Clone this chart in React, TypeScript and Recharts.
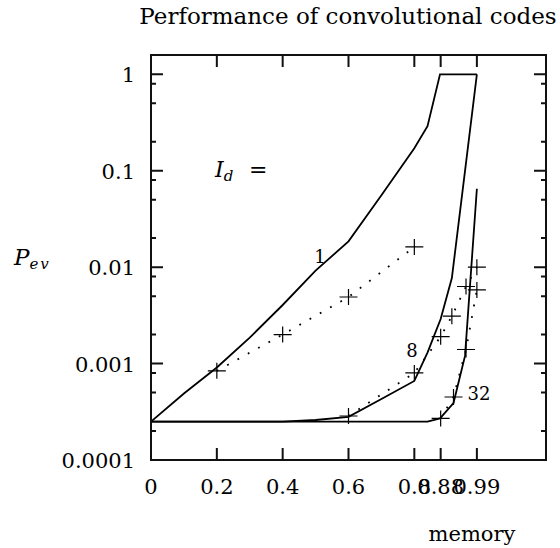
import { Line, LineChart, XAxis, YAxis } from 'recharts';

// axis ticks
const xTicks = [0, 0.2, 0.4, 0.6, 0.8, 0.88, 0.99];
const yMajorTicks = [0.0001, 0.001, 0.01, 0.1, 1];
const yMinorTicks = [0.0002, 0.0005, 0.0008, 0.002, 0.005, 0.008, 0.02, 0.05, 0.08, 0.2, 0.5, 0.8];

// bounds for I_d = 1, 8, 32 (solid)
const id1X = [0, 0.1, 0.2, 0.3, 0.4, 0.5, 0.6, 0.7, 0.8, 0.84, 0.878, 0.99];
const id1Y = [0.00025, 0.00049, 0.00091, 0.00186, 0.00405, 0.0092, 0.0185, 0.0557, 0.171, 0.29, 1, 1];
const id8X = [0, 0.4, 0.5, 0.6, 0.7, 0.8, 0.84, 0.88, 0.914, 0.99];
const id8Y = [0.00025, 0.00025, 0.00026, 0.00028, 0.00043, 0.00066, 0.0013, 0.0029, 0.0077, 1];
const id32X = [0, 0.8, 0.84, 0.878, 0.919, 0.954, 0.99];
const id32Y = [0.00025, 0.00025, 0.00025, 0.00027, 0.00039, 0.0012, 0.065];

// simulated codes (crosses, dotted)
const sim1X = [0.2, 0.4, 0.6, 0.8];
const sim1Y = [0.00084, 0.002, 0.0049, 0.0162];
const sim8X = [0.6, 0.8, 0.88, 0.914, 0.957, 0.99];
const sim8Y = [0.000286, 0.0008, 0.0019, 0.0031, 0.0063, 0.01];
const sim32X = [0.88, 0.919, 0.957, 0.99];
const sim32Y = [0.00027, 0.00045, 0.0014, 0.0058];

const zip = (xs: number[], ys: number[]) => xs.map((x, i) => ({ x, y: ys[i] }));

const W = 560;
const H = 548;
const font = '"DejaVu Serif", serif';
const axisStyle = { stroke: '#000', strokeWidth: 2 };
const yTicks = [...yMajorTicks, ...yMinorTicks].sort((a, b) => a - b);

const xMax = 1.2;
const yMin = 0.0001;
const yMax = 1.585;

// plot box (follows the chart margins and axis sizes below)
const L = 151;
const T = 55;
const PW = 395;
const PH = 405;
const R = L + PW;
const B = T + PH;
const frameX = (v: number) => L + (v / xMax) * PW;
const frameY = (v: number) => T + (Math.log10(yMax / v) / Math.log10(yMax / yMin)) * PH;
const isMajor = (v: number) => yMajorTicks.includes(v);

// frame outline and inward ticks on all four sides as one path
const framePath = [
  `M${L},${T}H${R}V${B}H${L}Z`,
  ...xTicks.map((t) => `M${frameX(t)},${B}v-12M${frameX(t)},${T}v12`),
  ...yTicks.map((t) => {
    const len = isMajor(t) ? 12 : 5;
    return `M${L},${frameY(t)}h${len}M${R},${frameY(t)}h${-len}`;
  }),
].join('');

function Cross(props: any) {
  const { cx, cy, index } = props;
  if (cx == null || cy == null) return null;
  return (
    <path
      key={index}
      d={`M${cx - 9},${cy}H${cx + 9}M${cx},${cy - 8}V${cy + 8}`}
      stroke="#000"
      strokeWidth={1.2}
      fill="none"
    />
  );
}

function BottomTick({ x, y, payload }: any) {
  return (
    <text x={x} y={y + 34} textAnchor="middle" fontFamily={font} fontSize={21} fill="#000">
      {payload.value}
    </text>
  );
}

function LeftTick({ x, y, payload }: any) {
  if (!isMajor(payload.value)) return <g />;
  return (
    <text x={x - 16} y={y + 8} textAnchor="end" fontFamily={font} fontSize={21} fill="#000">
      {String(payload.value)}
    </text>
  );
}

export default function App() {
  return (
    <div style={{ position: 'absolute', left: 0, top: 0, width: W, height: H, background: '#fff' }}>
      <LineChart width={W} height={H} margin={{ top: T, right: W - R, bottom: 0, left: 0 }}>
        <XAxis
          xAxisId="b"
          type="number"
          dataKey="x"
          domain={[0, xMax]}
          ticks={xTicks}
          interval={0}
          height={H - B}
          tickSize={0}
          tickMargin={0}
          tickLine={false}
          axisLine={axisStyle}
          tick={BottomTick}
        />
        <YAxis
          yAxisId="l"
          type="number"
          scale="log"
          domain={[yMin, yMax]}
          ticks={yTicks}
          interval={0}
          width={L}
          tickSize={0}
          tickMargin={0}
          tickLine={false}
          axisLine={axisStyle}
          tick={LeftTick}
        />
        <Line xAxisId="b" yAxisId="l" data={zip(id1X, id1Y)} dataKey="y" stroke="#000" strokeWidth={1.8} dot={false} isAnimationActive={false} />
        <Line xAxisId="b" yAxisId="l" data={zip(id8X, id8Y)} dataKey="y" stroke="#000" strokeWidth={1.8} dot={false} isAnimationActive={false} />
        <Line xAxisId="b" yAxisId="l" data={zip(id32X, id32Y)} dataKey="y" stroke="#000" strokeWidth={1.8} dot={false} isAnimationActive={false} />
        <Line xAxisId="b" yAxisId="l" data={zip(sim1X, sim1Y)} dataKey="y" stroke="#000" strokeWidth={1.8} strokeDasharray="1.8 10" dot={Cross} isAnimationActive={false} />
        <Line xAxisId="b" yAxisId="l" data={zip(sim8X, sim8Y)} dataKey="y" stroke="#000" strokeWidth={1.8} strokeDasharray="1.8 10" dot={Cross} isAnimationActive={false} />
        <Line xAxisId="b" yAxisId="l" data={zip(sim32X, sim32Y)} dataKey="y" stroke="#000" strokeWidth={1.8} strokeDasharray="1.8 10" dot={Cross} isAnimationActive={false} />
      </LineChart>
      {/* frame, inward ticks and annotations */}
      <svg width={W} height={H} style={{ position: 'absolute', left: 0, top: 0, pointerEvents: 'none' }} fontFamily={font}>
        <path d={framePath} fill="none" stroke="#111" strokeWidth={2} />
        <text x={348} y={24} textAnchor="middle" fontSize={23} fill="#000">Performance of convolutional codes</text>
        <text x={472} y={541} textAnchor="middle" fontSize={21} fill="#000">memory</text>
        <text x={14} y={265} fontSize={23} fontStyle="italic" fill="#000">
          P<tspan fontSize={15} dy={4} letterSpacing={2}>ev</tspan>
        </text>
        <text x={215} y={177} fontSize={22} fontStyle="italic" fill="#000">
          I<tspan fontSize={15} dy={4}>d</tspan>
        </text>
        <text x={249} y={177} fontSize={22} fill="#000">=</text>
        <text x={320} y={263} textAnchor="middle" fontSize={18} fill="#000">1</text>
        <text x={412} y={357} textAnchor="middle" fontSize={18} fill="#000">8</text>
        <text x={479} y={400} textAnchor="middle" fontSize={18} fill="#000">32</text>
      </svg>
    </div>
  );
}
